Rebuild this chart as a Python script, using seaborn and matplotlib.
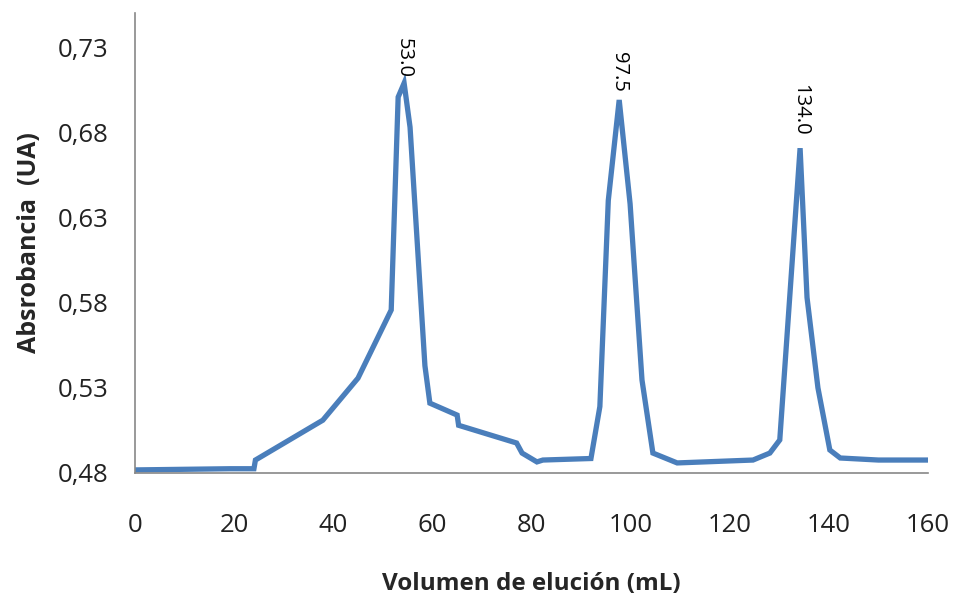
import numpy as np
import pandas as pd
import matplotlib
matplotlib.use("Agg")
import matplotlib.pyplot as plt
import seaborn as sns

volume = [0, 19.2, 24.0, 24.3, 37.9, 45.0, 51.7, 53.1, 54.3, 55.5, 58.5, 59.5, 65.0, 65.3,
          77.0, 78.1, 81.1, 82.3, 92.0, 93.8, 95.5, 97.7, 99.9, 102.3, 104.5, 109.4,
          124.7, 128.1, 130.1, 134.2, 135.6, 137.8, 140.2, 142.3, 150.0, 160.0]
absorbance = [0.4818, 0.4825, 0.4825, 0.4876, 0.511, 0.5357, 0.5757, 0.7007, 0.7089, 0.683,
              0.543, 0.521, 0.514, 0.508, 0.4976, 0.4917, 0.4865, 0.4876, 0.4885, 0.519,
              0.640, 0.699, 0.638, 0.5346, 0.4917, 0.4859, 0.4876, 0.4917, 0.4994, 0.6707,
              0.583, 0.530, 0.4935, 0.4888, 0.4876, 0.4876]

peak_x = [54.3, 97.7, 134.2]
peak_y = [0.7089, 0.699, 0.6707]
peak_labels = ["53.0", "97.5", "134.0"]
label_offsets = [4, 6, 9]

x_ticks = [0, 20, 40, 60, 80, 100, 120, 140, 160]
y_ticks = [0.48, 0.53, 0.58, 0.63, 0.68, 0.73]
y_tick_labels = ["0,48", "0,53", "0,58", "0,63", "0,68", "0,73"]

sns.set_style("white")
plt.rcParams['font.family'] = ['Open Sans', 'DejaVu Sans']

fig = plt.figure(figsize=(9.54, 5.96), dpi=100)
ax = fig.add_axes([0.1415, 0.2064, 0.9727 - 0.1415, 0.978 - 0.2064])

df = pd.DataFrame({"Volumen": volume, "Abs": absorbance})
sns.lineplot(data=df, x="Volumen", y="Abs", ax=ax, sort=False, estimator=None,
             color="#4A7EBB", linewidth=3.8, solid_joinstyle="miter")

for px, py, lab, off in zip(peak_x, peak_y, peak_labels, label_offsets):
    ax.annotate(lab, xy=(px, py), xytext=(0, off), textcoords="offset points",
                rotation=-90, ha="center", va="bottom", fontsize=14.5, color="black")

ax.set_xlim(0, 160)
ax.set_ylim(0.48, 0.75)
ax.set_xticks(x_ticks)
ax.set_xticklabels([str(t) for t in x_ticks])
ax.set_yticks(y_ticks)
ax.set_yticklabels(y_tick_labels)
ax.tick_params(axis="both", which="major", direction="out", length=8, width=1.2,
               color="#888888", labelsize=18.5, labelcolor="#222222")
ax.tick_params(axis="y", pad=11)
ax.tick_params(axis="x", pad=21)

for s in ["top", "right"]:
    ax.spines[s].set_visible(False)
for s in ["left", "bottom"]:
    ax.spines[s].set_color("#888888")
    ax.spines[s].set_linewidth(1.2)

ax.set_xlabel("Volumen de elución (mL)", fontsize=17.5, fontweight="bold", labelpad=24)
ax.set_ylabel("Absrobancia  (UA)", fontsize=18, fontweight="bold", labelpad=11)

fig.savefig("out.png", dpi=100)
